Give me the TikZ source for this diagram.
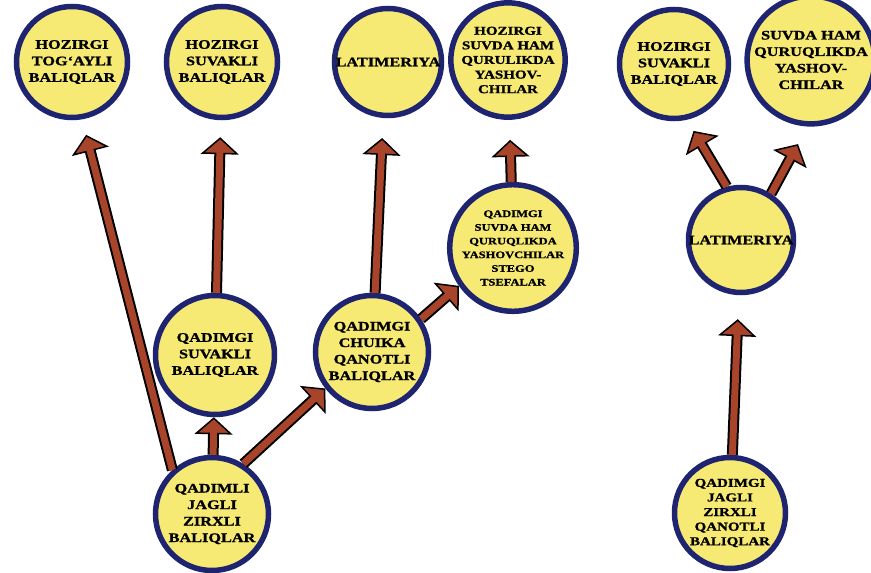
\documentclass[tikz,border=0pt]{standalone}
\usepackage{fontspec}
\setmainfont{Liberation Serif}[FakeStretch=1.25, BoldFeatures={FakeStretch=1.25, FakeBold=1.2}]
\usetikzlibrary{arrows.meta}
\definecolor{fishyellow}{RGB}{247,234,116}
\definecolor{ringblue}{RGB}{30,36,112}
\definecolor{arrowbrown}{RGB}{168,68,42}
\tikzset{taxon/.style={circle, draw=ringblue, line width=5.5pt, fill=fishyellow, inner sep=0pt, minimum size=#1, align=center, font=\bfseries\fontsize{13}{16.5}\selectfont}}
\tikzset{fivelines/.style={font=\bfseries\fontsize{12}{14.6}\selectfont}}
\tikzset{sixlines/.style={font=\bfseries\fontsize{10}{13.7}\selectfont}}
\tikzset{grow/.style={draw=black, line width=11pt, shorten >=#1, -{Triangle[width=38pt,length=17pt,fill=arrowbrown,line width=1.5pt]}, postaction={draw=arrowbrown, line width=7pt, -, shorten >=#1+14pt}}, grow/.default=0pt}

\begin{document}
\begin{tikzpicture}[x=1pt,y=-1pt]
	\useasboundingbox (0,0) rectangle (871,573);
	% present-day groups
	\node[taxon=111] (tog) at (72,62) {HOZIRGI\\TOG‘AYLI\\BALIQLAR};
	\node[taxon=111] (suvA) at (222,62) {HOZIRGI\\SUVAKLI\\BALIQLAR};
	\node[taxon=107] (latA) at (388,62) {LATIMERIYA};
	\node[taxon=107, fivelines] (amfA) at (508,60) {HOZIRGI\\SUVDA HAM\\QURULIKDA\\YASHOV-\\CHILAR};
	\node[taxon=109] (suvB) at (674,64) {HOZIRGI\\SUVAKLI\\BALIQLAR};
	\node[taxon=107] (amfB) at (811,60) {SUVDA HAM\\QURUQLIKDA\\YASHOV-\\CHILAR};
	% ancient groups
	\node[taxon=119] (qsuv) at (215,355) {QADIMGI\\SUVAKLI\\BALIQLAR};
	\node[taxon=113] (chuika) at (372,352) {QADIMGI\\CHUIKA\\QANOTLI\\BALIQLAR};
	\node[taxon=115, sixlines] (stego) at (513,248) {QADIMGI\\SUVDA HAM\\QURUQLIKDA\\YASHOVCHILAR\\STEGO\\TSEFALAR};
	\node[taxon=105] (latB) at (741,240) {LATIMERIYA};
	\node[taxon=113] (qjag) at (212,514) {QADIMLI\\JAGLI\\ZIRXLI\\BALIQLAR};
	\node[taxon=111, fivelines] (qjagB) at (730,513) {QADIMGI\\JAGLI\\ZIRXLI\\QANOTLI\\BALIQLAR};

	\draw[grow=16pt] (qjag.132) -- (tog.280);
	\draw[grow] (qjag) -- (qsuv);
	\draw[grow] (qjag.58) -- (chuika.218);
	\draw[grow=17pt] (qsuv) -- (suvA);
	\draw[grow=20pt] (chuika.87) -- (latA.265);
	\draw[grow] (chuika.34) -- (stego.215);
	\draw[grow=20pt] (stego) -- (amfA);
	\draw[grow=24pt] (qjagB) -- (latB);
	\draw[grow=13pt] (latB.105) -- (suvB.283);
	\draw[grow=20pt] (latB.57) -- (amfB.267);
\end{tikzpicture}
\end{document}
